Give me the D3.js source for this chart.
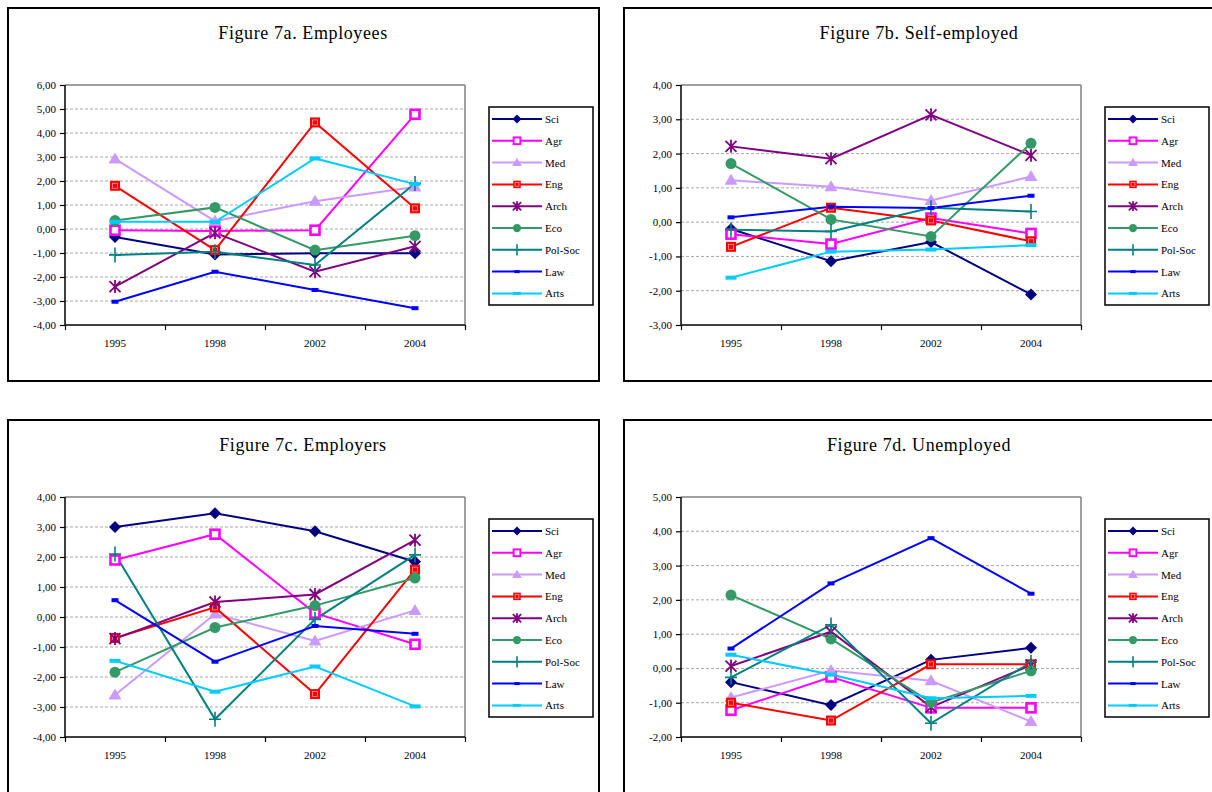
<!DOCTYPE html>
<html><head><meta charset="utf-8">
<script src="https://cdn.jsdelivr.net/npm/d3@7"></script>
<style>
html,body{margin:0;padding:0;background:#fff;}
svg{display:block;}
text{font-family:"Liberation Serif","Times New Roman",serif;fill:#000;}
</style></head><body>
<svg id="chart" width="1212" height="792"></svg>
<script>
const years = ["1995","1998","2002","2004"];
const seriesNames = ["Sci","Agr","Med","Eng","Arch","Eco","Pol-Soc","Law","Arts"];
const seriesColors = ["#000080","#FF00FF","#CC99FF","#FF0000","#800080","#339966","#008080","#0000FF","#00CCFF"];
const seriesMarkers = ["diamond","hollowSquare","triangle","square","star","circle","plus","shortDash","longDash"];
const panelTitles = ["Figure 7a. Employees","Figure 7b. Self-employed","Figure 7c. Employers","Figure 7d. Unemployed"];
const employeesRange = [-4, 6];
const selfEmployedRange = [-3, 4];
const employersRange = [-4, 4];
const unemployedRange = [-2, 5];

// values per series, in the order of seriesNames, one value per year
const employeesValues = [
  [-0.33,-1.06,-1.01,-1.01],
  [-0.05,-0.08,-0.05,4.78],
  [2.92,0.33,1.16,1.75],
  [1.8,-0.88,4.44,0.86],
  [-2.4,-0.16,-1.78,-0.72],
  [0.35,0.9,-0.88,-0.28],
  [-1.08,-0.95,-1.5,1.9],
  [-3.03,-1.78,-2.54,-3.3],
  [0.3,0.3,2.94,1.87]
];
const selfEmployedValues = [
  [-0.2,-1.14,-0.58,-2.11],
  [-0.35,-0.64,0.12,-0.33],
  [1.22,1.03,0.63,1.33],
  [-0.72,0.42,0.05,-0.56],
  [2.21,1.85,3.13,1.95],
  [1.71,0.08,-0.42,2.3],
  [-0.22,-0.27,0.42,0.31],
  [0.14,0.45,0.41,0.77],
  [-1.62,-0.86,-0.8,-0.67]
];
const employersValues = [
  [3.0,3.46,2.86,1.84],
  [1.9,2.76,0.13,-0.91],
  [-2.6,0.1,-0.8,0.22],
  [-0.7,0.32,-2.57,1.58],
  [-0.72,0.5,0.75,2.56],
  [-1.84,-0.35,0.38,1.3],
  [2.1,-3.41,-0.08,2.07],
  [0.56,-1.49,-0.3,-0.56],
  [-1.46,-2.49,-1.65,-2.98]
];
const unemployedValues = [
  [-0.4,-1.07,0.25,0.6],
  [-1.22,-0.25,-1.15,-1.15],
  [-0.85,-0.06,-0.36,-1.55],
  [-1.0,-1.52,0.12,0.12],
  [0.07,1.07,-1.13,0.1],
  [2.14,0.86,-0.99,-0.07],
  [-0.26,1.27,-1.6,0.18],
  [0.58,2.48,3.8,2.18],
  [0.4,-0.18,-0.87,-0.8]
];

const panels = [
  {title: panelTitles[0], range: employeesRange, values: employeesValues, dx: 0, dy: 0},
  {title: panelTitles[1], range: selfEmployedRange, values: selfEmployedValues, dx: 616, dy: 0},
  {title: panelTitles[2], range: employersRange, values: employersValues, dx: 0, dy: 412},
  {title: panelTitles[3], range: unemployedRange, values: unemployedValues, dx: 616, dy: 412}
];

const locale = d3.formatLocale({decimal: ",", thousands: ".", grouping: [3], currency: ["", ""], minus: "-"});
const fmt = locale.format(".2f");

const svg = d3.select("#chart");

function drawMarker(g, type, color, s) {
  switch (type) {
    case "diamond":
      g.append("path").attr("d", `M0,${-6*s}L${6*s},0L0,${6*s}L${-6*s},0Z`).attr("fill", color);
      break;
    case "hollowSquare":
      g.append("rect").attr("x", -4.5*s).attr("y", -4.5*s).attr("width", 9*s).attr("height", 9*s)
        .attr("fill", "#fff").attr("stroke", color).attr("stroke-width", 2.6*s);
      break;
    case "square":
      g.append("rect").attr("x", -5*s).attr("y", -5*s).attr("width", 10*s).attr("height", 10*s).attr("fill", color);
      g.append("rect").attr("x", -2.5*s).attr("y", -2.5*s).attr("width", 5*s).attr("height", 5*s)
        .attr("fill", "none").attr("stroke", "#fff").attr("stroke-opacity", 0.6).attr("stroke-width", 0.8);
      break;
    case "triangle":
      g.append("path").attr("d", `M0,${-6.5*s}L${6.5*s},${4.5*s}L${-6.5*s},${4.5*s}Z`).attr("fill", color);
      break;
    case "star":
      g.append("path").attr("d", `M${-5.5*s},${-5.5*s}L${5.5*s},${5.5*s}M${5.5*s},${-5.5*s}L${-5.5*s},${5.5*s}M0,${-6.5*s}L0,${6.5*s}`)
        .attr("stroke", color).attr("stroke-width", 1.8).attr("fill", "none");
      break;
    case "circle":
      g.append("circle").attr("r", 5.5*s).attr("fill", color);
      break;
    case "plus":
      g.append("path").attr("d", `M0,${-7.5*s}L0,${7.5*s}M${-6*s},0L${6*s},0`)
        .attr("stroke", color).attr("stroke-width", 1.6).attr("fill", "none");
      break;
    case "shortDash":
      g.append("rect").attr("x", -3.5*s).attr("y", -2*s).attr("width", 7*s).attr("height", 4*s).attr("fill", color);
      break;
    case "longDash":
      g.append("rect").attr("x", -5.5*s).attr("y", -2*s).attr("width", 11*s).attr("height", 4*s).attr("fill", color);
      break;
  }
}

panels.forEach(p => {
  const root = svg.append("g").attr("transform", `translate(${p.dx},${p.dy})`);
  // panel border
  root.append("rect").attr("x", 8).attr("y", 8).attr("width", 591).attr("height", 373)
    .attr("fill", "#fff").attr("stroke", "#000").attr("stroke-width", 2);
  // title
  root.append("text").attr("x", 303).attr("y", 39).attr("text-anchor", "middle")
    .attr("font-size", 18).attr("letter-spacing", 0.6).text(p.title);

  const plotW = 400, plotH = 240;
  const plot = root.append("g").attr("transform", "translate(65,85)");
  const x = d3.scaleBand().domain(years).range([0, plotW]);
  const xEdges = d3.scaleLinear().domain([0, years.length]).range([0, plotW]);
  const y = d3.scaleLinear().domain(p.range).range([plotH, 0]);
  const tickVals = d3.range(p.range[0], p.range[1] + 1);

  // gridlines
  plot.append("g").selectAll("line").data(tickVals.filter(v => v !== p.range[0] && v !== p.range[1]))
    .join("line").attr("x1", 0).attr("x2", plotW).attr("y1", d => y(d)).attr("y2", d => y(d))
    .attr("stroke", "#a8a8a8").attr("stroke-width", 1).attr("stroke-dasharray", "3,2");
  // plot top and right borders
  plot.append("line").attr("x1", 0).attr("x2", plotW).attr("y1", y(p.range[1])).attr("y2", y(p.range[1]))
    .attr("stroke", "#808080").attr("stroke-width", 1.5);
  plot.append("line").attr("x1", plotW).attr("x2", plotW).attr("y1", 0).attr("y2", plotH)
    .attr("stroke", "#808080").attr("stroke-width", 1.5);

  // y axis
  const yAxis = plot.append("g").call(d3.axisLeft(y).tickValues(tickVals).tickFormat(fmt).tickSize(5).tickPadding(4));
  yAxis.select(".domain").attr("stroke", "#000").attr("stroke-width", 1.5).attr("d", `M0,0V${plotH}`);
  yAxis.selectAll(".tick line").attr("stroke", "#000").attr("stroke-width", 1.2);
  yAxis.selectAll("text").attr("font-size", 11).attr("font-family", "Liberation Serif, serif").attr("fill", "#000");

  // x axis tick marks at category boundaries
  const xTicks = plot.append("g").attr("transform", `translate(0,${plotH})`)
    .call(d3.axisBottom(xEdges).tickValues(d3.range(0, years.length + 1)).tickFormat("").tickSize(5));
  xTicks.select(".domain").attr("stroke", "#000").attr("stroke-width", 1.5).attr("d", `M0,0H${plotW}`);
  xTicks.selectAll(".tick line").attr("stroke", "#000").attr("stroke-width", 1.2);
  // x labels
  const xAxis = plot.append("g").attr("transform", `translate(0,${plotH})`)
    .call(d3.axisBottom(x).tickSize(0).tickPadding(14));
  xAxis.select(".domain").remove();
  xAxis.selectAll("text").attr("font-size", 11).attr("font-family", "Liberation Serif, serif").attr("fill", "#000");

  // series
  const line = d3.line().x((d, i) => x(years[i]) + x.bandwidth() / 2).y(d => y(d));
  p.values.forEach((vals, si) => {
    plot.append("path").attr("d", line(vals)).attr("fill", "none")
      .attr("stroke", seriesColors[si]).attr("stroke-width", 2);
  });
  p.values.forEach((vals, si) => {
    vals.forEach((v, i) => {
      const g = plot.append("g").attr("transform", `translate(${x(years[i]) + x.bandwidth() / 2},${y(v)})`);
      drawMarker(g, seriesMarkers[si], seriesColors[si], 1);
    });
  });

  // legend
  const lg = root.append("g").attr("transform", "translate(489,107)");
  lg.append("rect").attr("width", 104).attr("height", 198).attr("fill", "#fff")
    .attr("stroke", "#000").attr("stroke-width", 1.5);
  seriesNames.forEach((name, i) => {
    const ry = 12 + i * 21.8;
    const r = lg.append("g").attr("transform", `translate(0,${ry})`);
    r.append("line").attr("x1", 3).attr("x2", 53).attr("stroke", seriesColors[i]).attr("stroke-width", 2);
    drawMarker(r.append("g").attr("transform", "translate(28,0)"), seriesMarkers[i], seriesColors[i], 0.75);
    r.append("text").attr("x", 56).attr("y", 4).attr("font-size", 11).text(name);
  });
});
</script>
</body></html>
